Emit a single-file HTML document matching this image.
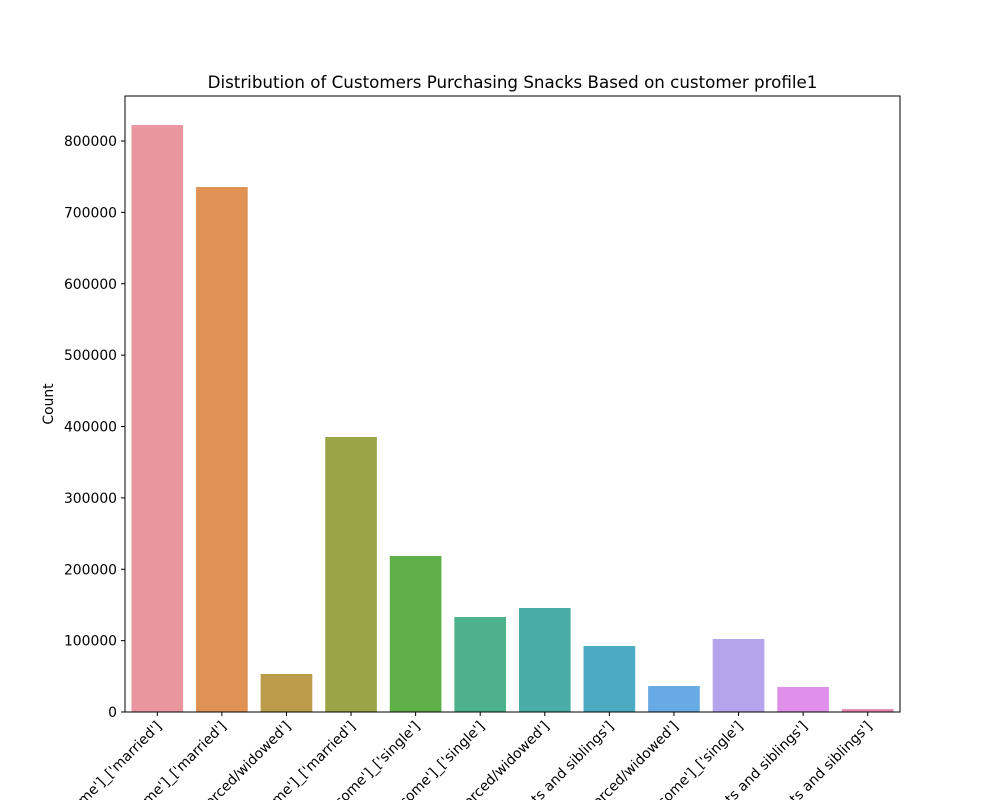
<!DOCTYPE html>
<html><head><meta charset="utf-8"><style>
body{margin:0;background:#fff;overflow:hidden}
svg{display:block;font-family:"DejaVu Sans","Liberation Sans",sans-serif}
</style></head><body>
<svg id="chart" width="1000" height="800" viewBox="0 0 1000 800">
<text x="512.5" y="88" font-size="16.7" text-anchor="middle">Distribution of Customers Purchasing Snacks Based on customer profile1</text>
<text transform="translate(53,404) rotate(-90)" font-size="13.9" text-anchor="middle">Count</text>
<g id="bars"></g><g id="yticks"></g><g id="xticks"></g>
<rect x="125" y="96" width="775" height="616" fill="none" stroke="#000" stroke-width="1"/>
</svg>
<script>
const categories=["['low income']_['married']","['middle income']_['married']","['low income']_['divorced/widowed']","['high income']_['married']","['low income']_['single']","['middle income']_['single']","['middle income']_['divorced/widowed']","['low income']_['living with parents and siblings']","['high income']_['divorced/widowed']","['high income']_['single']","['middle income']_['living with parents and siblings']","['high income']_['living with parents and siblings']"];
const counts=[822400,735500,53200,385300,218600,133100,145700,92500,36400,102300,35000,4200];
const colors=["#e9969f","#e09254","#bb9c48","#9ba548","#5fb048","#4bb28a","#4aaca7","#4daac3","#68aae4","#b4a5ec","#e08fea","#e78cb4"];
const yTicks=[0,100000,200000,300000,400000,500000,600000,700000,800000];
const NS="http://www.w3.org/2000/svg";
const L=125,R=900,T=96,B=712;
const y=v=>B-v/800000*(B-141);
const band=(R-L)/categories.length;
const xc=i=>L+band*(i+0.5);
function mk(t,a,p){const e=document.createElementNS(NS,t);for(const k in a)e.setAttribute(k,a[k]);p.appendChild(e);return e;}
const gb=document.getElementById('bars'),gy=document.getElementById('yticks'),gx=document.getElementById('xticks');
counts.forEach((v,i)=>{
 const r=mk('rect',{x:xc(i)-band*0.4,y:y(v),width:band*0.8,height:B-y(v),fill:colors[i]},gb);
 
 
});
yTicks.forEach(v=>{
 const l=mk('line',{x1:L-4,x2:L,y1:y(v),y2:y(v),stroke:'#000'},gy);
 
 
 const t=mk('text',{x:L-8,y:y(v)+5,'font-size':'13.9','text-anchor':'end'},gy);
 t.textContent=v;
 
 
});
categories.forEach((c,i)=>{
 const x=xc(i);
 const l=mk('line',{x1:x,x2:x,y1:B,y2:B+4,stroke:'#000'},gx);
 
 
 const t=mk('text',{transform:`translate(${x+5},${B+15}) rotate(-45)`,'font-size':'13.9','text-anchor':'end'},gx);
 t.textContent=c;
 
 
});
</script>
</body></html>
